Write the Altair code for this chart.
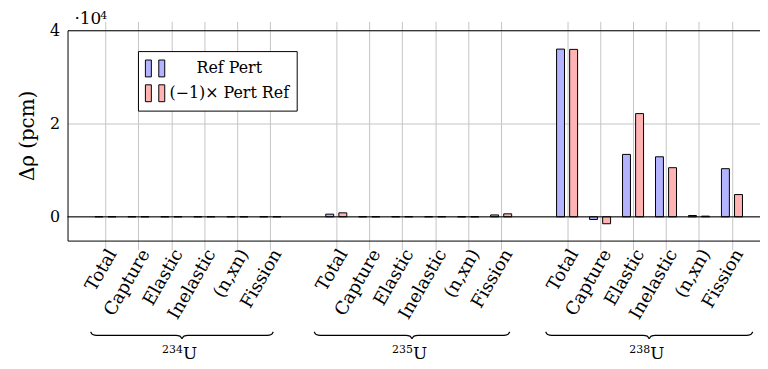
import json
import altair as alt
import pandas as pd

# ---------------- data (Δρ in pcm) ----------------
MASS_NUMBERS = ["234", "235", "238"]
ELEMENT = "U"
REACTIONS = ["Total", "Capture", "Elastic", "Inelastic", "(n,xn)", "Fission"]
SERIES = ["Ref Pert", "(−1)× Pert Ref"]

ref_pert_u234 = [20, 15, 15, 15, 10, 15]
ref_pert_u235 = [570, 20, 25, 30, 10, 400]
ref_pert_u238 = [35960, -570, 13380, 12870, 280, 10320]

neg_pert_ref_u234 = [20, 15, 15, 15, 10, 15]
neg_pert_ref_u235 = [850, 15, 30, 30, 10, 640]
neg_pert_ref_u238 = [35900, -1490, 22130, 10530, 140, 4770]

Y_TICKS = [0, 20000, 40000]

# ---------------- layout ----------------
FONT = "DejaVu Serif"
GRID = "#c4c4c4"
STEP = len(REACTIONS) + 1          # one empty slot between isotope groups
X_DOMAIN = [0, 20.7]
Y_DOMAIN = [-5100, 40000]
W, H = 698, 212
BRACE_PAD = [(-0.45, 0.09), (-0.67, 0.26), (-0.65, 0.63)]

series_values = {
    SERIES[0]: [ref_pert_u234, ref_pert_u235, ref_pert_u238],
    SERIES[1]: [neg_pert_ref_u234, neg_pert_ref_u235, neg_pert_ref_u238],
}

rows = []
for s, groups in series_values.items():
    for gi, iso in enumerate(MASS_NUMBERS):
        for j, r in enumerate(REACTIONS):
            rows.append({"series": s, "isotope": iso, "reaction": r,
                         "pos": gi * STEP + j + 1, "value": groups[gi][j]})
df = pd.DataFrame(rows)
positions = sorted(df["pos"].unique().tolist())

# brace geometry (decoration, in x-scale units)
brace_rows, label_rows = [], []
for gi, iso in enumerate(MASS_NUMBERS):
    first, last = gi * STEP + 1, gi * STEP + len(REACTIONS)
    s, e = first + BRACE_PAD[gi][0], last + BRACE_PAD[gi][1]
    t = (s + e) / 2
    left = [(s, 0), (s + 0.06, 0.38), (s + 0.18, 0.5), (t - 0.18, 0.5), (t - 0.06, 0.62), (t, 1)]
    right = [(t, 1), (t + 0.06, 0.62), (t + 0.18, 0.5), (e - 0.18, 0.5), (e - 0.06, 0.38), (e, 0)]
    for k, (bx, by) in enumerate(left):
        brace_rows.append({"seg": f"{gi}L", "bx": bx, "by": by, "o": k})
    for k, (bx, by) in enumerate(right):
        brace_rows.append({"seg": f"{gi}R", "bx": bx, "by": by, "o": k})
    label_rows.append({"mass": iso, "elem": ELEMENT, "cx": t})
brace_df = pd.DataFrame(brace_rows)
label_df = pd.DataFrame(label_rows)

xscale = alt.Scale(domain=X_DOMAIN, nice=False, zero=False)


def yscale():
    return alt.Scale(domain=Y_DOMAIN, nice=False, zero=False)


label_expr = f"{json.dumps(REACTIONS)}[(datum.value % {STEP}) - 1]"

x_bottom = alt.X("pos:Q", scale=xscale, axis=alt.Axis(
    orient="bottom", values=positions, labelExpr=label_expr, labelAngle=-60,
    labelAlign="right", labelBaseline="middle", labelOffset=7, labelPadding=1,
    labelOverlap=False, labelFont=FONT, labelFontSize=18, labelColor="black",
    tickSize=9, tickColor=GRID, grid=True, gridColor=GRID,
    domainColor="black", title=None))

x_none = alt.X("pos:Q", scale=xscale, axis=None)

y_main = alt.Y("value:Q", scale=yscale(), axis=alt.Axis(
    orient="left", values=Y_TICKS, labelExpr="datum.value / 10000",
    labelFont=FONT, labelFontSize=16, labelColor="black", labelPadding=8,
    tickSize=0, grid=True, gridColor=GRID, domainColor="black",
    title="Δρ (pcm)", titleFont=FONT, titleFontSize=20, titleFontWeight="normal",
    titleColor="black", titlePadding=12))

legend = alt.Legend(
    title=None, orient="none", legendX=71, legendY=21, direction="vertical",
    fillColor="white", strokeColor="black", padding=7,
    symbolType="M-1,-0.85H-0.4V0.85H-1Z M0.35,-0.85H0.95V0.85H0.35Z",
    symbolSize=400, symbolStrokeColor="black", symbolStrokeWidth=1, symbolOpacity=1,
    labelFont=FONT, labelFontSize=16, labelColor="black",
    labelAlign="center", labelOffset=64, rowPadding=4)

color = alt.Color("series:N", scale=alt.Scale(domain=SERIES, range=["#b3b3ff", "#ffb3b3"]),
                  legend=legend)

blue = alt.Chart(df[df["series"] == SERIES[0]]).mark_bar(
    size=8, xOffset=-6.6, stroke="black", strokeWidth=1, opacity=1
).encode(x=x_bottom, y=y_main, color=color)

red = alt.Chart(df[df["series"] == SERIES[1]]).mark_bar(
    size=8, xOffset=6.6, stroke="black", strokeWidth=1, opacity=1
).encode(x=x_none, y=alt.Y("value:Q", scale=yscale(), axis=None), color=color)

top_axis = alt.Chart(pd.DataFrame({"pos": positions})).mark_point(opacity=0).encode(
    x=alt.X("pos:Q", scale=xscale, axis=alt.Axis(
        orient="top", values=positions, labels=False, tickSize=9, tickColor=GRID,
        grid=False, domainColor="black", title=None)),
    y=alt.value(0))

zero = alt.Chart(pd.DataFrame({"z": [0]})).mark_rule(color="black", strokeWidth=1).encode(
    y=alt.Y("z:Q", scale=yscale(), axis=None))

exp_base = alt.Chart(pd.DataFrame({"t": ["·10"]})).mark_text(
    align="left", baseline="alphabetic", font=FONT, fontSize=17, color="black"
).encode(text="t:N", x=alt.value(7), y=alt.value(-6))

exp_pow = alt.Chart(pd.DataFrame({"t": ["4"]})).mark_text(
    align="left", baseline="alphabetic", font=FONT, fontSize=11, color="black"
).encode(text="t:N", x=alt.value(33), y=alt.value(-11))

group_mass = alt.Chart(label_df).mark_text(
    align="right", baseline="alphabetic", font=FONT, fontSize=11, color="black", dx=1
).encode(x=alt.X("cx:Q", scale=xscale, axis=None), y=alt.value(325), text="mass:N")

group_elem = alt.Chart(label_df).mark_text(
    align="left", baseline="alphabetic", font=FONT, fontSize=17, color="black", dx=1
).encode(x=alt.X("cx:Q", scale=xscale, axis=None), y=alt.value(331), text="elem:N")

braces = alt.Chart(brace_df).mark_line(color="black", strokeWidth=1.2, interpolate="monotone").encode(
    x=alt.X("bx:Q", scale=xscale, axis=None),
    y=alt.Y("by:Q", scale=alt.Scale(domain=[0, 1], range=[304, 311], nice=False, zero=False), axis=None),
    detail="seg:N", order="o:Q")

chart = alt.layer(
    blue, red, zero, top_axis, exp_base, exp_pow, group_mass, group_elem, braces
).resolve_scale(y="independent").properties(
    width=W, height=H,
    autosize=alt.AutoSizeParams(type="none"),
    padding={"left": 60, "top": 21, "right": 0, "bottom": 128},
).configure_view(stroke=None)

chart.save("out.html", embed_options={"renderer": "svg", "actions": False})
